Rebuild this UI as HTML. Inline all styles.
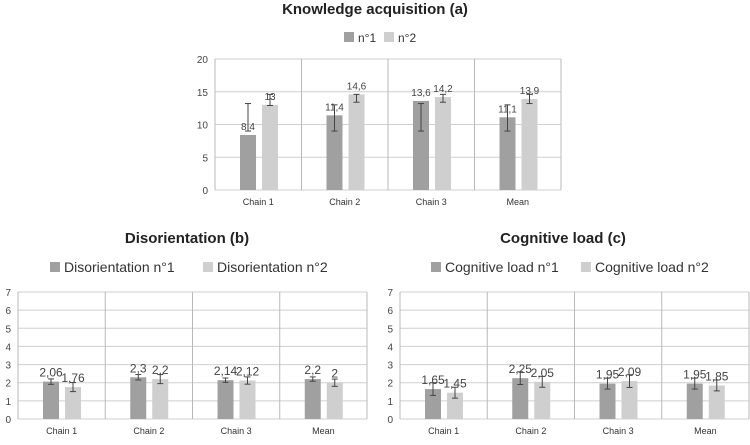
<!DOCTYPE html>
<html><head><meta charset="utf-8"><style>
body{margin:0;background:#fff;font-family:"Liberation Sans",sans-serif}
svg text{font-family:"Liberation Sans",sans-serif}
</style></head><body>
<svg id="s" width="750" height="440" xmlns="http://www.w3.org/2000/svg"></svg>
<script>
const categories=["Chain 1","Chain 2","Chain 3","Mean"];
const knowN1=[8.4,11.4,13.6,11.1];
const knowN2=[13,14.6,14.2,13.9];
const knowN1Lo=[9,9,9,9]; const knowN1Hi=[13.2,13,13.2,13];
const knowN2Lo=[12.9,13.4,13.4,13.2]; const knowN2Hi=[14.6,14.6,14.6,14.6];
const knowTicks=[0,5,10,15,20];
const disN1=[2.06,2.3,2.14,2.2];
const disN2=[1.76,2.2,2.12,2];
const disN1Err=[0.15,0.15,0.12,0.12];
const disN2Err=[0.25,0.25,0.2,0.2];
const cogN1=[1.65,2.25,1.95,1.95];
const cogN2=[1.45,2.05,2.09,1.85];
const cogN1Err=[0.35,0.35,0.3,0.3];
const cogN2Err=[0.3,0.3,0.35,0.3];
const sevenTicks=[0,1,2,3,4,5,6,7];

const svg=document.getElementById('s');
const NS='http://www.w3.org/2000/svg';
function mk(tag,attrs,parent,name,txt){const e=document.createElementNS(NS,tag);for(const k in attrs)e.setAttribute(k,attrs[k]);


if(txt!==undefined)e.textContent=txt;(parent||svg).appendChild(e);return e;}
const fmt=v=>String(v).replace('.',',');

function chart(o){
  const g=mk('g',{},svg,o.name);
  const y=v=>o.y0-(v/o.max)*(o.y0-o.y1);
  const cw=(o.x1-o.x0)/categories.length;
  mk('text',{x:o.cx,y:o.ty,'text-anchor':'middle','font-size':15,'font-weight':'bold',fill:'#222'},g,'chart-title',o.title);
  mk('rect',{x:o.lx,y:o.ly-10,width:10,height:10,fill:'#a0a0a0'},g,'legend-swatch-n1');
  mk('text',{x:o.lx+14,y:o.ly,'font-size':o.lfs,fill:'#333'},g,'legend-entry-n1',o.l1);
  mk('rect',{x:o.lx2,y:o.ly-10,width:10,height:10,fill:'#cfcfcf'},g,'legend-swatch-n2');
  mk('text',{x:o.lx2+14,y:o.ly,'font-size':o.lfs,fill:'#333'},g,'legend-entry-n2',o.l2);
  o.ticks.forEach(t=>{
    mk('line',{x1:o.x0,x2:o.x1,y1:y(t),y2:y(t),stroke:'#cfcfcf'},g,'gridline');
    mk('text',{x:o.x0-7,y:y(t)+4,'text-anchor':'end','font-size':10,fill:'#444'},g,'y-tick-label',t);
  });
  for(let i=0;i<=categories.length;i++)
    mk('line',{x1:o.x0+i*cw,x2:o.x0+i*cw,y1:o.y1,y2:o.y0,stroke:'#b8b8b8'},g,'category-divider');
  categories.forEach((c,i)=>{
    const bx=o.x0+i*cw;
    mk('text',{x:bx+cw/2,y:o.y0+15,'text-anchor':'middle','font-size':9,fill:'#333'},g,'x-tick-label',c);
    [[o.a,o.aLo,o.aHi,'#a0a0a0',25,'n1'],[o.b,o.bLo,o.bHi,'#cfcfcf',47,'n2']].forEach(([arr,lo,hi,col,off,sn])=>{
      const v=arr[i];
      mk('rect',{x:bx+off,y:y(v),width:16,height:o.y0-y(v),fill:col},g,'bar-'+sn+'-'+(i+1));
      const ex=bx+off+8, ylo=y(lo[i]), yhi=y(hi[i]);
      mk('line',{x1:ex,x2:ex,y1:ylo,y2:yhi,stroke:'#444'},g,'error-bar');
      mk('line',{x1:ex-3,x2:ex+3,y1:ylo,y2:ylo,stroke:'#444'},g,'error-cap');
      mk('line',{x1:ex-3,x2:ex+3,y1:yhi,y2:yhi,stroke:'#444'},g,'error-cap');
      mk('text',{x:ex,y:y(v)-5,'text-anchor':'middle','font-size':o.vfs,fill:'#444'},g,'value-label',fmt(v));
    });
  });
}
chart({name:'knowledge-chart',title:'Knowledge acquisition (a)',cx:375,ty:14,lx:344,lx2:384,ly:42,lfs:12,l1:'n°1',l2:'n°2',
  x0:215,x1:561,y0:190,y1:59,max:20,ticks:knowTicks,vfs:10,
  a:knowN1,aLo:knowN1Lo,aHi:knowN1Hi,b:knowN2,bLo:knowN2Lo,bHi:knowN2Hi});
const lo=(v,e)=>v.map((x,i)=>x-e[i]), hi=(v,e)=>v.map((x,i)=>x+e[i]);
chart({name:'disorientation-chart',title:'Disorientation (b)',cx:187,ty:243,lx:50,lx2:203,ly:272,lfs:14,l1:'Disorientation n°1',l2:'Disorientation n°2',
  x0:18,x1:367,y0:419,y1:292,max:7,ticks:sevenTicks,vfs:12,
  a:disN1,aLo:lo(disN1,disN1Err),aHi:hi(disN1,disN1Err),b:disN2,bLo:lo(disN2,disN2Err),bHi:hi(disN2,disN2Err)});
chart({name:'cognitive-load-chart',title:'Cognitive load (c)',cx:563,ty:243,lx:431,lx2:581,ly:272,lfs:14,l1:'Cognitive load n°1',l2:'Cognitive load n°2',
  x0:400,x1:749,y0:419,y1:292,max:7,ticks:sevenTicks,vfs:12,
  a:cogN1,aLo:lo(cogN1,cogN1Err),aHi:hi(cogN1,cogN1Err),b:cogN2,bLo:lo(cogN2,cogN2Err),bHi:hi(cogN2,cogN2Err)});
</script>
</body></html>
